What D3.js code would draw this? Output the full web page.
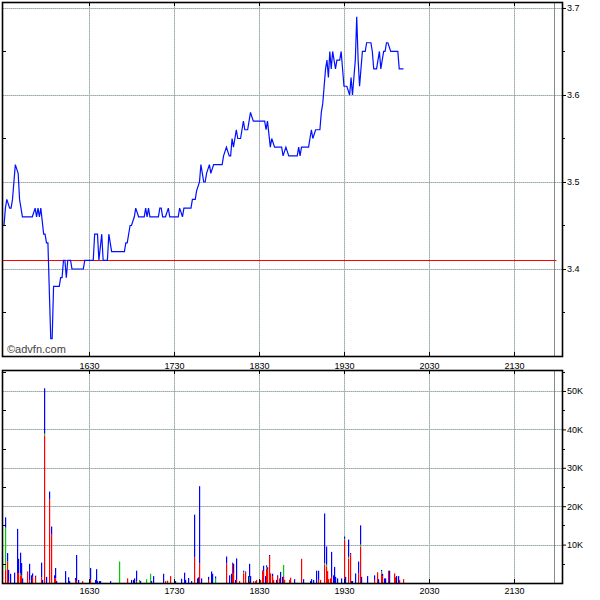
<!DOCTYPE html>
<html><head><meta charset="utf-8">
<script src="https://cdn.jsdelivr.net/npm/d3@7"></script>
<style>body{margin:0;background:#fff}svg{display:block}text{font-family:"Liberation Sans",Arial,sans-serif;font-size:9px;fill:#000}</style>
</head><body><svg id="c" width="600" height="600"></svg>
<script>
const priceTimes = ["15:30","15:31","15:32","15:34","15:35","15:36","15:38","15:40","15:41","15:42","15:43","15:50","15:52","15:53","15:54","15:55","15:56","15:58","15:59","16:00","16:01","16:03","16:04","16:05","16:09","16:10","16:11","16:12","16:13","16:14","16:15","16:17","16:18","16:26","16:27","16:33","16:34","16:36","16:37","16:39","16:40","16:43","16:44","16:46","16:55","16:56","16:57","16:59","17:00","17:02","17:03","17:05","17:09","17:10","17:11","17:12","17:13","17:15","17:19","17:20","17:21","17:22","17:24","17:26","17:27","17:33","17:34","17:36","17:37","17:42","17:43","17:45","17:46","17:48","17:49","17:51","17:52","17:53","17:55","17:56","17:58","18:04","18:05","18:07","18:09","18:10","18:11","18:12","18:14","18:15","18:17","18:19","18:20","18:22","18:24","18:26","18:34","18:35","18:36","18:38","18:39","18:41","18:46","18:47","18:49","18:51","18:57","18:58","18:59","19:00","19:05","19:07","19:08","19:10","19:13","19:14","19:15","19:17","19:18","19:19","19:20","19:21","19:22","19:24","19:25","19:27","19:28","19:30","19:32","19:34","19:35","19:36","19:38","19:39","19:40","19:41","19:43","19:45","19:46","19:49","19:50","19:51","19:53","19:55","19:56","19:58","19:59","20:00","20:01","20:03","20:08","20:09","20:12"];
const priceValues = [3.45,3.47,3.48,3.47,3.47,3.48,3.52,3.51,3.48,3.47,3.46,3.46,3.47,3.46,3.47,3.46,3.47,3.44,3.44,3.43,3.43,3.32,3.32,3.38,3.38,3.39,3.39,3.41,3.41,3.39,3.41,3.41,3.40,3.40,3.41,3.41,3.44,3.44,3.41,3.44,3.41,3.41,3.44,3.42,3.42,3.43,3.43,3.45,3.45,3.46,3.47,3.46,3.46,3.47,3.46,3.47,3.46,3.46,3.46,3.47,3.47,3.46,3.46,3.47,3.46,3.46,3.47,3.46,3.47,3.47,3.48,3.48,3.49,3.50,3.52,3.50,3.50,3.51,3.52,3.51,3.52,3.52,3.53,3.54,3.53,3.53,3.55,3.54,3.56,3.55,3.55,3.57,3.56,3.56,3.58,3.57,3.57,3.56,3.57,3.54,3.55,3.54,3.54,3.53,3.54,3.53,3.53,3.54,3.53,3.54,3.54,3.56,3.55,3.56,3.56,3.58,3.59,3.63,3.64,3.62,3.65,3.63,3.65,3.63,3.64,3.64,3.65,3.61,3.61,3.60,3.62,3.60,3.64,3.69,3.64,3.61,3.65,3.65,3.66,3.66,3.65,3.63,3.63,3.65,3.63,3.65,3.65,3.66,3.66,3.65,3.65,3.63,3.63];
const refPrice = 3.41;

const volTimes = ["15:31","15:32","15:33","15:34","15:37","15:39","15:40","15:41","15:42","15:43","15:46","15:48","15:49","15:50","15:52","15:56","15:57","15:58","16:00","16:02","16:03","16:05","16:06","16:07","16:13","16:15","16:16","16:20","16:21","16:22","16:25","16:31","16:34","16:35","16:36","16:37","16:38","16:45","16:51","16:57","17:00","17:01","17:02","17:03","17:05","17:06","17:10","17:13","17:14","17:15","17:22","17:24","17:25","17:27","17:31","17:35","17:37","17:38","17:40","17:42","17:44","17:46","17:47","17:48","17:49","17:54","17:56","17:57","17:59","18:07","18:09","18:10","18:11","18:12","18:13","18:14","18:16","18:19","18:20","18:22","18:23","18:24","18:26","18:27","18:28","18:31","18:32","18:33","18:34","18:35","18:36","18:37","18:38","18:39","18:40","18:42","18:43","18:44","18:45","18:46","18:47","18:48","18:51","18:52","18:55","19:00","19:01","19:06","19:07","19:08","19:10","19:12","19:13","19:16","19:17","19:18","19:19","19:20","19:21","19:22","19:23","19:24","19:25","19:28","19:30","19:31","19:33","19:34","19:35","19:36","19:38","19:40","19:41","19:42","19:46","19:51","19:53","19:54","19:56","19:57","19:58","19:59","20:01","20:02","20:05","20:06","20:07","20:08","20:09","20:12"];
const volRed   = [3400,5600,500,0,0,2600,2600,2000,2000,0,3000,700,0,1600,1600,1500,0,38400,0,21900,12600,1200,1200,0,0,0,0,800,500,0,500,800,0,0,0,0,0,0,0,1200,0,0,0,500,0,0,0,0,0,0,0,500,600,1800,0,0,0,0,0,0,6700,0,0,5100,0,800,0,0,0,5100,0,0,5000,2500,0,800,500,2500,2700,0,500,0,500,500,800,800,3300,3000,0,3800,3600,7000,2500,1800,800,0,1600,1200,0,0,1800,800,800,1400,0,6300,0,0,0,0,0,800,800,4700,4300,3100,1000,1200,1600,0,0,0,0,0,11200,0,6400,7500,0,0,0,2500,9500,0,0,800,2800,0,2500,1800,0,0,3200,0,2500,1500,0,0,800,1000];
const volGreen = [11000,0,0,0,0,0,0,500,0,0,0,0,0,0,0,0,0,500,0,0,0,0,0,0,0,0,0,0,0,0,0,0,0,0,0,0,0,0,5600,0,0,0,0,0,800,0,1000,2400,0,0,0,0,0,0,0,0,0,0,0,0,0,0,0,0,0,0,0,0,1200,0,0,0,0,0,0,0,0,400,0,0,1000,0,0,0,0,0,0,0,0,400,0,0,0,0,0,0,0,0,0,0,2900,0,0,0,0,0,0,0,0,0,0,0,0,400,500,0,0,0,0,0,0,0,0,0,300,0,400,0,0,0,0,0,500,0,0,0,0,0,500,0,0,0,0,0,0,0,0,0,0,0];
const volBlue  = [2700,2200,2900,2400,2700,11500,3700,5400,3200,1200,0,4300,2000,900,300,3800,800,11800,1600,1900,2100,800,2700,500,3100,1500,500,500,6800,800,0,3100,800,3600,500,500,500,500,0,0,800,800,1200,2700,0,500,0,0,500,1800,2400,0,0,0,500,1100,2700,800,1300,500,11100,1200,1500,20100,1200,800,3000,2400,500,1800,2000,2400,300,2500,800,5600,0,300,300,1800,3500,1800,0,0,0,0,0,1500,1800,400,500,300,0,600,0,800,400,0,2900,1600,0,0,0,0,1000,0,1000,500,1000,800,3200,2400,0,13000,4700,0,0,0,6500,2000,4200,1600,1200,1200,600,1600,4500,300,500,500,2500,3100,5000,1600,1800,1200,0,1000,400,600,1200,1200,0,3200,0,0,1800,1800,0,0];

const hourTicks = ["16:30","17:30","18:30","19:30","20:30","21:30"];
const closeTime = "21:58";
const priceTicks = [3.4,3.5,3.6,3.7];
const priceMinor = [3.35,3.45,3.55,3.65];
const volTicks = [10000,20000,30000,40000,50000];
const volMinor = [5000,15000,25000,35000,45000,55000];

const toMin = s => { const [h,m] = s.split(":").map(Number); return (h-15)*60 + m - 30; };
const svg = d3.select("#c");
const L = 3, R = 562;
const x = d3.scaleLinear().domain([-0.7, 393.9]).range([L, R]);
const yP = d3.scaleLinear().domain([3.3, 3.7057]).range([356, 3]);
const yV = d3.scaleLinear().domain([0, 55200]).range([583, 371]);

function grid(g, yScale, yVals, top, bottom) {
  const draw = (sel, col, dash) => {
    sel.selectAll(null).data(hourTicks).join("line")
      .attr("x1", d => Math.round(x(toMin(d))) + 0.5).attr("x2", d => Math.round(x(toMin(d))) + 0.5)
      .attr("y1", top).attr("y2", bottom).attr("stroke", col).attr("stroke-dasharray", dash);
    sel.selectAll(null).data(yVals).join("line")
      .attr("x1", L).attr("x2", R)
      .attr("y1", d => Math.round(yScale(d)) + 0.5).attr("y2", d => Math.round(yScale(d)) + 0.5)
      .attr("stroke", col).attr("stroke-dasharray", dash);
  };
  draw(g, "#b0cccc", null);
  draw(g, "#a8a8a8", "1,1");
  g.append("line").attr("x1", Math.round(x(toMin(closeTime))) + 0.5).attr("x2", Math.round(x(toMin(closeTime))) + 0.5)
    .attr("y1", top).attr("y2", bottom).attr("stroke", "#8a8a8a");
}

function frame(top, bottom, yScale, majors, minors, fmt) {
  svg.append("rect").attr("x", 2.5).attr("y", top - 0.5).attr("width", R - 2.5 + 0.5).attr("height", bottom - top + 1)
    .attr("fill", "none").attr("stroke", "#000").attr("stroke-width", 1.6);
  hourTicks.forEach(t => {
    const xx = Math.round(x(toMin(t))) + 0.5;
    svg.append("line").attr("x1", xx).attr("x2", xx).attr("y1", top).attr("y2", top + 3).attr("stroke", "#000");
    svg.append("line").attr("x1", xx).attr("x2", xx).attr("y1", bottom - 4).attr("y2", bottom).attr("stroke", "#000");
  });
  const ax = svg.append("g").attr("transform", `translate(${R + 1},0)`)
    .call(d3.axisRight(yScale).tickValues(majors).tickSize(3).tickPadding(1).tickFormat(fmt));
  ax.select(".domain").remove();
  ax.selectAll("text").style("font-size", "9px").style("fill", "#000");
  minors.forEach(v => {
    const yy = Math.round(yScale(v)) + 0.5;
    svg.append("line").attr("x1", R + 1).attr("x2", R + 3).attr("y1", yy).attr("y2", yy).attr("stroke", "#000");
    svg.append("line").attr("x1", L).attr("x2", L + 3).attr("y1", yy).attr("y2", yy).attr("stroke", "#000");
  });
}

// ---- price panel
const gP = svg.append("g");
grid(gP, yP, priceTicks, 3, 356);
gP.append("line").attr("x1", L).attr("x2", x(toMin("22:00")))
  .attr("y1", Math.round(yP(refPrice)) + 0.5).attr("y2", Math.round(yP(refPrice)) + 0.5)
  .attr("stroke", "#ff0000").attr("stroke-width", 1.2);
const line = d3.line().x((d, i) => x(toMin(priceTimes[i]))).y(d => yP(d));
gP.append("path").attr("d", line(priceValues)).attr("fill", "none").attr("stroke", "#0010ff").attr("stroke-width", 1.2);
frame(3, 356, yP, priceTicks, priceMinor, d3.format(".1f"));
svg.append("text").attr("x", 7).attr("y", 353).style("font-size", "11px").style("fill", "#444").text("©advfn.com");

// ---- volume panel
const gV = svg.append("g");
grid(gV, yV, volTicks, 371, 583);
const bars = gV.append("g");
volTimes.forEach((t, i) => {
  const bx = Math.round(x(toMin(t)));
  const segs = [[volRed[i], "#ff0000"], [volGreen[i], "#00cc00"], [volBlue[i], "#0000ff"]];
  let base = 0;
  segs.forEach(([v, c]) => {
    if (v > 0) {
      bars.append("rect").attr("x", bx).attr("width", 1.2)
        .attr("y", yV(base + v)).attr("height", yV(base) - yV(base + v)).attr("fill", c);
      base += v;
    }
  });
});
frame(371, 583, yV, volTicks, volMinor, d => (d / 1000) + "K");

// ---- time labels
const hhmm = t => t.replace(":", "");
[368.5, 594].forEach(by => {
  svg.append("g").selectAll("text").data(hourTicks).join("text")
    .attr("x", d => x(toMin(d)) + 0.5).attr("y", by).attr("text-anchor", "middle").text(hhmm);
});
</script></body></html>
